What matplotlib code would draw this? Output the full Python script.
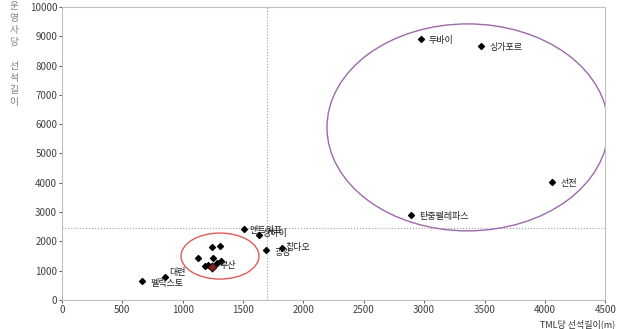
import matplotlib
matplotlib.use('Agg')
import matplotlib.pyplot as plt
from matplotlib.patches import Ellipse

plt.rcParams['font.family'] = ['Noto Sans CJK KR', 'DejaVu Sans']

# 항만별 값 (TML당 선석길이, 운영사당 선석길이)
names = ['두바이', '싱가포르', '선전', '탄중펠레파스', '앤트워프', '상하이',
         '광양', '칭다오', '대련', '펠릭스토']
x_named = [2970, 3470, 4060, 2890, 1510, 1630, 1690, 1820, 850, 665]
y_named = [8900, 8670, 4040, 2900, 2410, 2230, 1700, 1790, 800, 660]
# 라벨 위치 (offset points)
offsets = [(6, -1), (6, -1), (6, -1), (6, -1), (4, -1), (3, 1),
           (6, -2), (3, 0), (3, 3), (6, -2)]

# 부산 주변 군집 (라벨 없음)
x_cluster = [1240, 1309, 1129, 1254, 1185, 1212, 1281, 1315]
y_cluster = [1800, 1853, 1423, 1445, 1171, 1195, 1274, 1331]
busan = (1245, 1137)

vline_x = 1700
hline_y = 2450

fig = plt.figure(figsize=(6.23, 3.29), dpi=100)
ax = fig.add_axes([0.0995, 0.088, 0.872, 0.891])

ax.axvline(vline_x, color='#a0a0a0', lw=0.8, ls=':', zorder=1)
ax.axhline(hline_y, color='#a0a0a0', lw=0.8, ls=':', zorder=1)

ax.scatter(x_named, y_named, marker='D', s=9, color='black', zorder=3)
ax.scatter(x_cluster, y_cluster, marker='D', s=9, color='black', zorder=3)
ax.scatter([busan[0]], [busan[1]], marker='D', s=22, color='#8b1a1a',
           edgecolor='black', lw=0.6, zorder=4)

for n, xv, yv, off in zip(names, x_named, y_named, offsets):
    ax.annotate(n, (xv, yv), xytext=off, textcoords='offset points',
                fontsize=6.5, va='center', color='#202020')
ax.annotate('부산', busan, xytext=(5, 1), textcoords='offset points',
            fontsize=6.5, va='center', color='#202020')

ax.add_patch(Ellipse((1309, 1500), 646, 1570, fill=False,
                     edgecolor='#e05a5a', lw=1.0, zorder=2))
ax.add_patch(Ellipse((3360, 5890), 2330, 7060, fill=False,
                     edgecolor='#9b6aa8', lw=1.0, zorder=2))

ax.set_xlim(0, 4500)
ax.set_ylim(0, 10000)
ax.set_xticks(range(0, 4501, 500))
ax.set_yticks(range(0, 10001, 1000))
ax.tick_params(labelsize=7, colors='#404040', length=2, width=0.6, pad=1.5)
for s in ax.spines.values():
    s.set_color('#c0c0c0')
    s.set_linewidth(0.8)

fig.text(0.988, 0.0, 'TML당 선석길이(m)', ha='right', va='bottom',
         fontsize=6.5, color='#303030')
fig.text(0.022, 0.996, '\n'.join('운영사당 선석길이'), ha='center', va='top',
         fontsize=7, color='#808080', linespacing=1.25, rotation=0)

plt.savefig('out.png', dpi=100)
